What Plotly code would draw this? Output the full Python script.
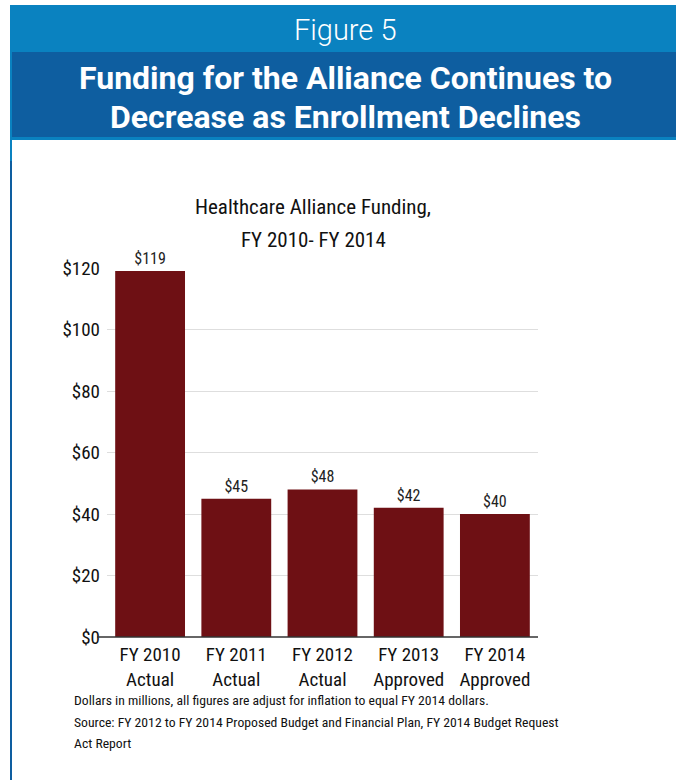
import plotly.graph_objects as go

W, H = 676, 780

categories = ["FY 2010<br>Actual", "FY 2011<br>Actual", "FY 2012<br>Actual",
              "FY 2013<br>Approved", "FY 2014<br>Approved"]
values = [119, 45, 48, 42, 40]
value_labels = ["$119", "$45", "$48", "$42", "$40"]
y_ticks = [0, 20, 40, 60, 80, 100, 120]
y_tick_labels = ["$0", "$20", "$40", "$60", "$80", "$100", "$120"]

FONT = "Roboto Condensed, Liberation Sans, sans-serif"
HEAD = "Roboto, Liberation Sans, sans-serif"
LIGHT = "#0A82C0"
DARK = "#0E5EA0"
BAR = "#6E1014"

def px(x):
    return x / W

def py(y):
    return 1 - y / H

fig = go.Figure()
fig.add_trace(go.Bar(
    x=categories, y=values, marker_color=BAR, marker_line_width=0,
    text=value_labels, textposition="outside", cliponaxis=False,
    textfont=dict(family=FONT, size=16, color="#222"),
))

shapes = [
    dict(type="rect", xref="paper", yref="paper", x0=px(10), x1=1, y0=py(52), y1=py(5),
         fillcolor=LIGHT, line_width=0, layer="below"),
    dict(type="rect", xref="paper", yref="paper", x0=px(11), x1=1, y0=py(137), y1=py(52),
         fillcolor=DARK, line_width=0, layer="below"),
    dict(type="rect", xref="paper", yref="paper", x0=px(10), x1=1, y0=py(140), y1=py(137),
         fillcolor=LIGHT, line_width=0, layer="below"),
    dict(type="rect", xref="paper", yref="paper", x0=px(10), x1=px(12), y0=py(161), y1=py(5),
         fillcolor=LIGHT, line_width=0, layer="below"),
    dict(type="rect", xref="paper", yref="paper", x0=px(10), x1=px(12), y0=0, y1=py(161),
         fillcolor=DARK, line_width=0, layer="below"),
    dict(type="line", xref="paper", yref="paper", x0=px(97), x1=px(538), y0=py(637), y1=py(637),
         line=dict(color="#333", width=1.5)),
]

def note(text, x, y, size, family=FONT, anchor="center", color="#111", weight=None):
    f = dict(family=family, size=size, color=color)
    if weight is not None:
        f["weight"] = weight
    return dict(text=text, x=px(x), y=py(y), xref="paper", yref="paper", showarrow=False,
                xanchor=anchor, yanchor="middle", font=f)

annotations = [
    note("Figure 5", 346, 30, 29, HEAD, color="white", weight=300),
    note("<b>Funding for the Alliance Continues to</b>", 345, 78, 32, HEAD, color="white"),
    note("<b>Decrease as Enrollment Declines</b>", 345, 117, 32, HEAD, color="white"),
    note("Healthcare Alliance Funding,", 313, 207, 21),
    note("FY 2010- FY 2014", 313, 240, 21),
    note("Dollars in millions, all figures are adjust for inflation to equal FY 2014 dollars.",
         72, 700, 13.7, anchor="left"),
    note("Source: FY 2012 to FY 2014 Proposed Budget and Financial Plan, FY 2014 Budget Request",
         72, 722, 13.7, anchor="left"),
    note("Act Report", 72, 743, 13.7, anchor="left"),
]

fig.update_layout(
    width=W, height=H,
    margin=dict(l=0, r=0, t=0, b=0, autoexpand=False),
    paper_bgcolor="white", plot_bgcolor="white",
    showlegend=False, bargap=0.19,
    shapes=shapes, annotations=annotations,
    xaxis=dict(domain=[px(107), px(538)], tickfont=dict(family=FONT, size=19, color="#111"),
               showgrid=False, showline=False, ticks="", ticklabelstandoff=4, fixedrange=True),
    yaxis=dict(domain=[py(637), py(268)], range=[0, 120.01], tickvals=y_ticks,
               ticktext=y_tick_labels,
               tickfont=dict(family=FONT, size=19, color="#111"), showgrid=True,
               gridcolor="#dedede", gridwidth=1, zeroline=False, showline=False,
               ticks="", ticklabelstandoff=6, fixedrange=True),
)

fig.write_html("out.html", config={"displayModeBar": False},
               post_script="document.body.style.margin='0';")
